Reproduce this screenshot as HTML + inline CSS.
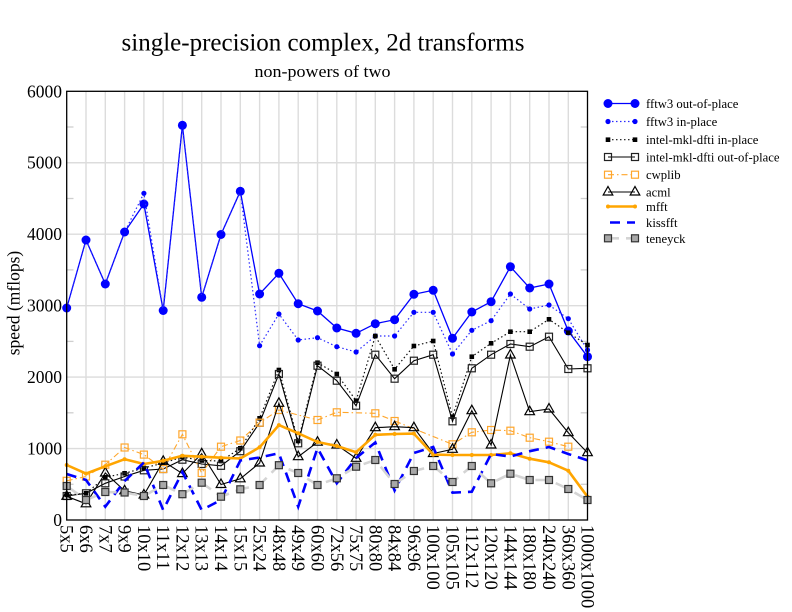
<!DOCTYPE html>
<html><head><meta charset="utf-8"><style>
html,body{margin:0;padding:0;background:#fff;}
svg{display:block;}
text{font-family:"Liberation Serif","Times New Roman",serif;fill:#000;}
</style></head><body>
<svg width="792" height="612" viewBox="0 0 792 612" xmlns="http://www.w3.org/2000/svg">
<defs>
<marker id="cb" markerUnits="userSpaceOnUse" markerWidth="12" markerHeight="12" refX="6" refY="6" overflow="visible"><circle cx="6" cy="6" r="4.5" fill="#0000ff"/></marker>
<marker id="cs" markerUnits="userSpaceOnUse" markerWidth="12" markerHeight="12" refX="6" refY="6" overflow="visible"><circle cx="6" cy="6" r="2.6" fill="#0000ff"/></marker>
<marker id="sf" markerUnits="userSpaceOnUse" markerWidth="12" markerHeight="12" refX="6" refY="6" overflow="visible"><rect x="3.7" y="3.7" width="4.6" height="4.6" fill="#000"/></marker>
<marker id="so" markerUnits="userSpaceOnUse" markerWidth="12" markerHeight="12" refX="6" refY="6" overflow="visible"><rect x="2.5" y="2.5" width="7" height="7" fill="none" stroke="#222" stroke-width="1.2"/></marker>
<marker id="sor" markerUnits="userSpaceOnUse" markerWidth="12" markerHeight="12" refX="6" refY="6" overflow="visible"><rect x="2.5" y="2.5" width="7" height="7" fill="none" stroke="#ffa62b" stroke-width="1.2"/></marker>
<marker id="tr" markerUnits="userSpaceOnUse" markerWidth="12" markerHeight="12" refX="6" refY="6" overflow="visible"><path d="M6,0.5 L10.8,9 L1.2,9 Z" fill="none" stroke="#000" stroke-width="1.2"/></marker>
<marker id="dm" markerUnits="userSpaceOnUse" markerWidth="12" markerHeight="12" refX="6" refY="6" overflow="visible"><circle cx="6" cy="6" r="2" fill="#ffa500"/></marker>
<marker id="sg" markerUnits="userSpaceOnUse" markerWidth="12" markerHeight="12" refX="6" refY="6" overflow="visible"><rect x="2.5" y="2.5" width="7" height="7" fill="#a8a8a8" stroke="#333" stroke-width="1.2"/></marker>
</defs>

<!-- title -->
<text x="323" y="50.5" font-size="25" text-anchor="middle" textLength="403" lengthAdjust="spacingAndGlyphs">single-precision complex, 2d transforms</text>
<text x="322.5" y="77" font-size="17" text-anchor="middle" textLength="136" lengthAdjust="spacingAndGlyphs">non-powers of two</text>

<!-- grid -->
<g stroke="#dcdcdc" stroke-width="1.4">
<line x1="66.7" y1="448.55" x2="587.5" y2="448.55"/>
<line x1="66.7" y1="377.1" x2="587.5" y2="377.1"/>
<line x1="66.7" y1="305.65" x2="587.5" y2="305.65"/>
<line x1="66.7" y1="234.2" x2="587.5" y2="234.2"/>
<line x1="66.7" y1="162.75" x2="587.5" y2="162.75"/>
<line x1="86" y1="91.3" x2="86" y2="520"/>
<line x1="105.3" y1="91.3" x2="105.3" y2="520"/>
<line x1="124.6" y1="91.3" x2="124.6" y2="520"/>
<line x1="143.9" y1="91.3" x2="143.9" y2="520"/>
<line x1="163.2" y1="91.3" x2="163.2" y2="520"/>
<line x1="182.4" y1="91.3" x2="182.4" y2="520"/>
<line x1="201.7" y1="91.3" x2="201.7" y2="520"/>
<line x1="221" y1="91.3" x2="221" y2="520"/>
<line x1="240.3" y1="91.3" x2="240.3" y2="520"/>
<line x1="259.6" y1="91.3" x2="259.6" y2="520"/>
<line x1="278.9" y1="91.3" x2="278.9" y2="520"/>
<line x1="298.2" y1="91.3" x2="298.2" y2="520"/>
<line x1="317.5" y1="91.3" x2="317.5" y2="520"/>
<line x1="336.8" y1="91.3" x2="336.8" y2="520"/>
<line x1="356.1" y1="91.3" x2="356.1" y2="520"/>
<line x1="375.3" y1="91.3" x2="375.3" y2="520"/>
<line x1="394.6" y1="91.3" x2="394.6" y2="520"/>
<line x1="413.9" y1="91.3" x2="413.9" y2="520"/>
<line x1="433.2" y1="91.3" x2="433.2" y2="520"/>
<line x1="452.5" y1="91.3" x2="452.5" y2="520"/>
<line x1="471.8" y1="91.3" x2="471.8" y2="520"/>
<line x1="491.1" y1="91.3" x2="491.1" y2="520"/>
<line x1="510.4" y1="91.3" x2="510.4" y2="520"/>
<line x1="529.7" y1="91.3" x2="529.7" y2="520"/>
<line x1="549" y1="91.3" x2="549" y2="520"/>
<line x1="568.3" y1="91.3" x2="568.3" y2="520"/>
</g>
<!-- minor ticks -->
<g stroke="#cfcfcf" stroke-width="1.3">
<line x1="66.7" y1="484.3" x2="73.5" y2="484.3"/><line x1="580.7" y1="484.3" x2="587.5" y2="484.3"/>
<line x1="66.7" y1="412.8" x2="73.5" y2="412.8"/><line x1="580.7" y1="412.8" x2="587.5" y2="412.8"/>
<line x1="66.7" y1="341.4" x2="73.5" y2="341.4"/><line x1="580.7" y1="341.4" x2="587.5" y2="341.4"/>
<line x1="66.7" y1="269.9" x2="73.5" y2="269.9"/><line x1="580.7" y1="269.9" x2="587.5" y2="269.9"/>
<line x1="66.7" y1="198.5" x2="73.5" y2="198.5"/><line x1="580.7" y1="198.5" x2="587.5" y2="198.5"/>
<line x1="66.7" y1="127" x2="73.5" y2="127"/><line x1="580.7" y1="127" x2="587.5" y2="127"/>
</g>

<!-- series -->
<polyline fill="none" stroke="#0000ff" stroke-width="1.3" marker-start="url(#cb)" marker-mid="url(#cb)" marker-end="url(#cb)" points="66.7,308 86,240 105.3,284 124.6,232 143.9,204 163.2,310.5 182.4,125.3 201.7,297.3 221,234.5 240.3,191.3 259.6,294 278.9,273.3 298.2,303.7 317.5,311 336.8,328 356.1,333.3 375.3,323.7 394.6,319.7 413.9,294.3 433.2,290.3 452.5,338.3 471.8,312 491.1,301.7 510.4,266.7 529.7,288 549,284 568.3,331 587.5,356.7"/>
<polyline fill="none" stroke="#2a2aff" stroke-width="1.2" stroke-dasharray="1.5,2.5" marker-start="url(#cs)" marker-mid="url(#cs)" marker-end="url(#cs)" points="66.7,308 86,240 105.3,284 124.6,232 143.9,193.3 163.2,310.5 182.4,125.3 201.7,297.3 221,234.5 240.3,191.3 259.6,345.7 278.9,314 298.2,340 317.5,337.7 336.8,346.7 356.1,352 375.3,336 394.6,336 413.9,312.3 433.2,312.3 452.5,354 471.8,330.3 491.1,320.7 510.4,294 529.7,309 549,305 568.3,318.7 587.5,350"/>
<polyline fill="none" stroke="#111" stroke-width="1.2" stroke-dasharray="1.5,2.5" marker-start="url(#sf)" marker-mid="url(#sf)" marker-end="url(#sf)" points="66.7,495 86,493.3 105.3,477.3 124.6,473.3 143.9,468 163.2,463 182.4,457 201.7,460.5 221,461 240.3,448.3 259.6,418.3 278.9,370 298.2,441 317.5,362.7 336.8,374 356.1,400.7 375.3,336 394.6,369.3 413.9,346 433.2,341 452.5,416.7 471.8,356.7 491.1,343.3 510.4,331.7 529.7,331.7 549,319.3 568.3,332.7 587.5,345"/>
<polyline fill="none" stroke="#000" stroke-width="1.1" marker-start="url(#so)" marker-mid="url(#so)" marker-end="url(#so)" points="66.7,496 86,493.3 105.3,483.3 124.6,476.5 143.9,470.3 163.2,469 182.4,459.7 201.7,464 221,465.8 240.3,451.2 259.6,422.7 278.9,374 298.2,443.3 317.5,365.7 336.8,380.7 356.1,405.7 375.3,354.7 394.6,378.7 413.9,360.7 433.2,354.7 452.5,421.3 471.8,368.3 491.1,354.7 510.4,344 529.7,346.7 549,336.7 568.3,369 587.5,368.3"/>
<polyline fill="none" stroke="#ffa62b" stroke-width="1.1" stroke-dasharray="6,3,1.5,3" marker-start="url(#sor)" marker-mid="url(#sor)" marker-end="url(#sor)" points="66.7,480.8 86,476.5 105.3,464.7 124.6,447.5 143.9,454.6 163.2,469 182.4,434.3 201.7,473 221,446.7 240.3,440.5 259.6,422.7 278.9,410 317.5,420 336.8,412.3 375.3,413.3 394.6,421 452.5,444.3 471.8,432.3 491.1,430 510.4,430.7 529.7,437.7 549,441.7 568.3,446.7"/>
<polyline fill="none" stroke="#000" stroke-width="1.1" marker-start="url(#tr)" marker-mid="url(#tr)" marker-end="url(#tr)" points="66.7,496.3 86,503.8 105.3,473 124.6,490.8 143.9,495 163.2,461.3 182.4,473.6 201.7,453.8 221,484.5 240.3,478.8 259.6,463 278.9,403.3 298.2,456.7 317.5,442.2 336.8,445 356.1,458.3 375.3,427.7 394.6,426.7 413.9,427.7 433.2,453.5 452.5,449.3 471.8,410.7 491.1,445 510.4,355 529.7,411.7 549,409 568.3,432.7 587.5,452.7"/>
<polyline fill="none" stroke="#ffa500" stroke-width="2.6" stroke-linejoin="round" marker-start="url(#dm)" marker-mid="url(#dm)" marker-end="url(#dm)" points="66.7,465 86,473.6 105.3,466.3 124.6,459.2 143.9,464 163.2,460.8 182.4,455.8 201.7,456.7 221,457.7 240.3,458.5 259.6,447.3 278.9,425.1 298.2,433.3 317.5,442 336.8,446 356.1,452.2 375.3,434.8 394.6,434 413.9,433.6 433.2,454.6 452.5,455 471.8,455 491.1,455 510.4,453.3 529.7,458.7 549,462.3 568.3,470.7 587.5,496.7"/>
<polyline fill="none" stroke="#0000ff" stroke-width="2.6" stroke-dasharray="10,7" points="66.7,474 86,480 105.3,506.7 124.6,481 143.9,462.5 163.2,510 182.4,472 201.7,510 221,500 240.3,460.5 259.6,457.5 278.9,453.3 298.2,506.7 317.5,448 336.8,483.3 356.1,458 375.3,442.5 394.6,490.5 413.9,453 433.2,447 452.5,492.7 471.8,491.7 491.1,454 510.4,456.5 529.7,451.2 549,447 568.3,454 587.5,460.3"/>
<polyline fill="none" stroke="#d4d4d4" stroke-width="2.6" stroke-dasharray="14,7" marker-start="url(#sg)" marker-mid="url(#sg)" marker-end="url(#sg)" points="66.7,486 86,500 105.3,492 124.6,492.5 143.9,496 163.2,485 182.4,494.2 201.7,482.7 221,496.7 240.3,489.3 259.6,485 278.9,465.2 298.2,473 317.5,485 336.8,478.3 356.1,466.7 375.3,460 394.6,484 413.9,471 433.2,466 452.5,482 471.8,466 491.1,483.3 510.4,473.7 529.7,480 549,480 568.3,489 587.5,500"/>

<!-- frame -->
<rect x="66.7" y="91.3" width="520.8" height="428.7" fill="none" stroke="#000" stroke-width="1.3"/>

<!-- y ticks -->
<g font-size="17.5" text-anchor="end">
<text x="62" y="526">0</text>
<text x="62" y="454.5">1000</text>
<text x="62" y="383.1">2000</text>
<text x="62" y="311.6">3000</text>
<text x="62" y="240.2">4000</text>
<text x="62" y="168.7">5000</text>
<text x="62" y="97.3">6000</text>
</g>
<text transform="translate(19.5,303) rotate(-90)" font-size="17.5" text-anchor="middle">speed (mflops)</text>

<!-- x ticks -->
<g font-size="18.5">
<text transform="translate(60.7,525) rotate(90)">5x5</text>
<text transform="translate(80,525) rotate(90)">6x6</text>
<text transform="translate(99.3,525) rotate(90)">7x7</text>
<text transform="translate(118.6,525) rotate(90)">9x9</text>
<text transform="translate(137.9,525) rotate(90)">10x10</text>
<text transform="translate(157.2,525) rotate(90)">11x11</text>
<text transform="translate(176.4,525) rotate(90)">12x12</text>
<text transform="translate(195.7,525) rotate(90)">13x13</text>
<text transform="translate(215,525) rotate(90)">14x14</text>
<text transform="translate(234.3,525) rotate(90)">15x15</text>
<text transform="translate(253.6,525) rotate(90)">25x24</text>
<text transform="translate(272.9,525) rotate(90)">48x48</text>
<text transform="translate(292.2,525) rotate(90)">49x49</text>
<text transform="translate(311.5,525) rotate(90)">60x60</text>
<text transform="translate(330.8,525) rotate(90)">72x56</text>
<text transform="translate(350.1,525) rotate(90)">75x75</text>
<text transform="translate(369.3,525) rotate(90)">80x80</text>
<text transform="translate(388.6,525) rotate(90)">84x84</text>
<text transform="translate(407.9,525) rotate(90)">96x96</text>
<text transform="translate(427.2,525) rotate(90)">100x100</text>
<text transform="translate(446.5,525) rotate(90)">105x105</text>
<text transform="translate(465.8,525) rotate(90)">112x112</text>
<text transform="translate(485.1,525) rotate(90)">120x120</text>
<text transform="translate(504.4,525) rotate(90)">144x144</text>
<text transform="translate(523.7,525) rotate(90)">180x180</text>
<text transform="translate(543,525) rotate(90)">240x240</text>
<text transform="translate(562.3,525) rotate(90)">360x360</text>
<text transform="translate(581.5,525) rotate(90)">1000x1000</text>
</g>

<!-- legend -->
<polyline fill="none" stroke="#0000ff" stroke-width="1.3" marker-start="url(#cb)" marker-end="url(#cb)" points="608,103.5 635,103.5"/>
<polyline fill="none" stroke="#2a2aff" stroke-width="1.2" stroke-dasharray="1.5,2.5" marker-start="url(#cs)" marker-end="url(#cs)" points="608,121.5 635,121.5"/>
<polyline fill="none" stroke="#111" stroke-width="1.2" stroke-dasharray="1.5,2.5" marker-start="url(#sf)" marker-end="url(#sf)" points="608,139.7 635,139.7"/>
<polyline fill="none" stroke="#000" stroke-width="1.1" marker-start="url(#so)" marker-end="url(#so)" points="608,157 635,157"/>
<polyline fill="none" stroke="#ffa62b" stroke-width="1.1" stroke-dasharray="6,3,1.5,3" marker-start="url(#sor)" marker-end="url(#sor)" points="608,174.7 635,174.7"/>
<polyline fill="none" stroke="#000" stroke-width="1.1" marker-start="url(#tr)" marker-end="url(#tr)" points="608,192 635,192"/>
<polyline fill="none" stroke="#ffa500" stroke-width="2.4" marker-start="url(#dm)" marker-end="url(#dm)" points="608,206.5 635,206.5"/>
<polyline fill="none" stroke="#0000ff" stroke-width="2.6" stroke-dasharray="10,7" points="610,222.5 635,222.5"/>
<polyline fill="none" stroke="#d4d4d4" stroke-width="2.6" stroke-dasharray="11,7" marker-start="url(#sg)" marker-end="url(#sg)" points="608,238.3 635,238.3"/>
<g font-size="12.7">
<text x="646" y="108">fftw3 out-of-place</text>
<text x="646" y="126">fftw3 in-place</text>
<text x="646" y="144.2">intel-mkl-dfti in-place</text>
<text x="646" y="161.5">intel-mkl-dfti out-of-place</text>
<text x="646" y="179.2">cwplib</text>
<text x="646" y="196.5">acml</text>
<text x="646" y="211">mfft</text>
<text x="646" y="227">kissfft</text>
<text x="646" y="242.8">teneyck</text>
</g>
</svg>
</body></html>
